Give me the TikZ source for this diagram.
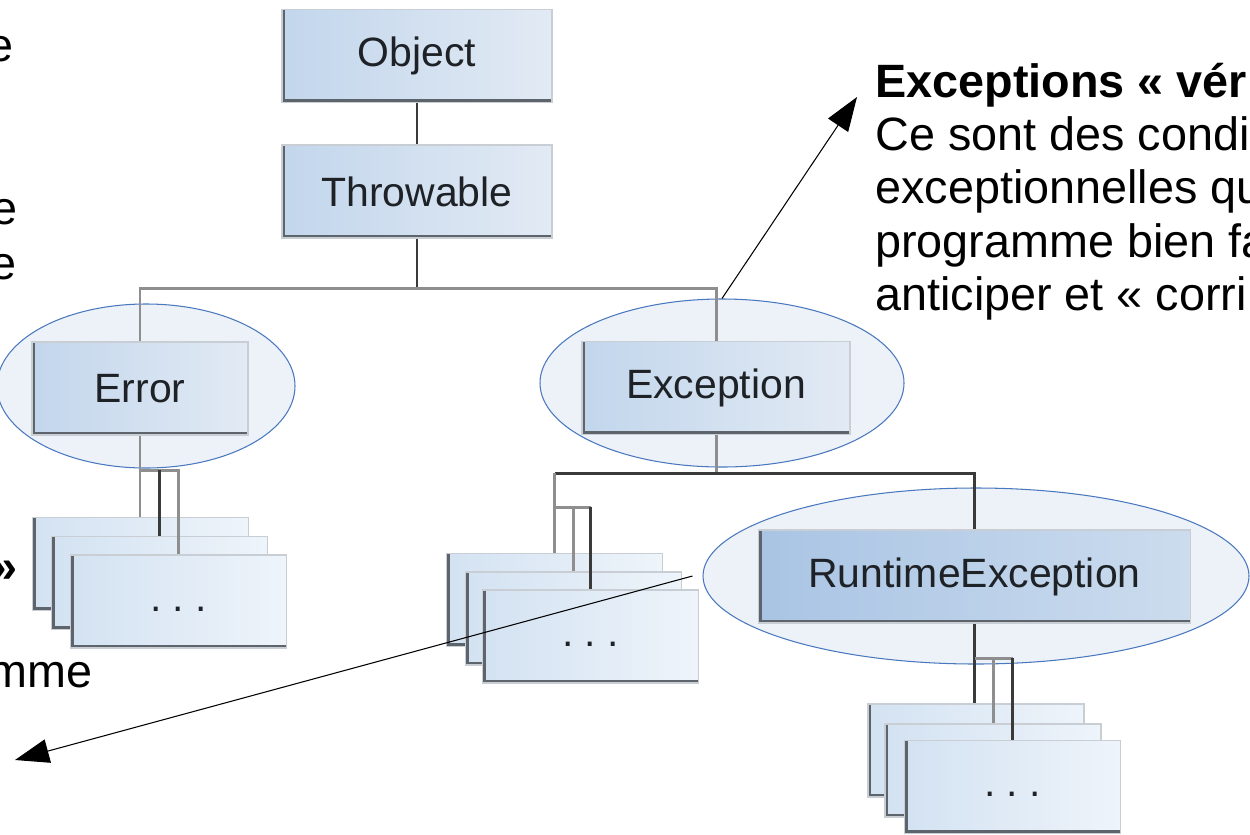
\documentclass[tikz,border=0pt]{standalone}
\usepackage{fontspec}
\setmainfont{Liberation Sans}
\usetikzlibrary{shapes.geometric,arrows.meta}

\definecolor{boxleft}{HTML}{C2D6EC}
\definecolor{boxright}{HTML}{E2EAF4}
\definecolor{rtleft}{HTML}{A9C4E4}
\definecolor{rtright}{HTML}{CCDCEE}
\definecolor{stackleft}{HTML}{D3E2F2}
\definecolor{stackright}{HTML}{EEF4FA}
\definecolor{boxedge}{HTML}{C9CED4}
\definecolor{boxshadow}{HTML}{5E646B}
\definecolor{boxtext}{HTML}{1E2226}
\definecolor{hullfill}{HTML}{EDF2F9}
\definecolor{hullline}{HTML}{4A78BE}
\definecolor{linedark}{HTML}{3A3A3A}
\definecolor{linegrey}{HTML}{8E8E8E}

\newcommand{\labelfont}{\fontsize{23.3}{28}\selectfont}
\newcommand{\notefont}{\fontsize{26.6}{30.4}\selectfont}
\newcommand{\moredots}{\vphantom{Ay}.\ .\ .}

\tikzset{
  classbox/.style={draw=boxedge, line width=1pt, inner sep=0pt,
    left color=boxleft, right color=boxright,
    minimum width=5.4cm, minimum height=1.86cm,
    font=\labelfont, text=boxtext,
    path picture={\draw[boxshadow, line width=3.6pt]
      (path picture bounding box.north west) --
      (path picture bounding box.south west) --
      (path picture bounding box.south east);}},
  stackbox/.style={classbox, minimum width=4.32cm,
    left color=stackleft, right color=stackright},
  hull/.style={ellipse, draw=hullline, line width=0.6pt, fill=hullfill, inner sep=0pt},
  darklink/.style={draw=linedark, line width=1.7pt},
  greylink/.style={draw=linegrey, line width=1.7pt},
  callout/.style={-{Triangle[length=0.68cm,width=0.48cm]}, line width=0.6pt},
  tail/.style={anchor=base east, inner sep=0pt, font=\notefont}
}

\begin{document}
\begin{tikzpicture}
  \useasboundingbox (0,0) rectangle (25,-16.68);
  \clip (0,0) rectangle (25,-16.68);

  % highlighted groups
  \node[hull, minimum width=5.96cm, minimum height=3.28cm] (errhull) at (2.92,-7.72) {};
  \node[hull, minimum width=7.28cm, minimum height=3.36cm] (exhull) at (14.44,-7.66) {};
  \node[hull, minimum width=10.92cm, minimum height=3.52cm] (rthull) at (19.52,-11.52) {};

  % class hierarchy
  \node[classbox] (object) at (8.34,-1.12) {Object};
  \node[classbox] (throwable) at (8.34,-3.83) {Throwable};
  \node[classbox, minimum width=4.32cm] (error) at (2.80,-7.77) {Error};
  \node[classbox, minimum width=5.36cm] (exception) at (14.32,-7.76) {Exception};
  \node[classbox, minimum width=8.64cm, left color=rtleft, right color=rtright]
    (runtime) at (19.49,-11.53) {RuntimeException};

  % subclass stacks
  \node[stackbox] (errA) at (2.81,-11.28) {};
  \node[stackbox] (errB) at ([shift={(0.38,-0.38)}]errA.center) {};
  \node[stackbox] (errC) at ([shift={(0.38,-0.37)}]errB.center) {\moredots};
  \node[stackbox] (exA) at (11.09,-12.00) {};
  \node[stackbox] (exB) at ([shift={(0.38,-0.37)}]exA.center) {};
  \node[stackbox] (exC) at ([shift={(0.34,-0.36)}]exB.center) {\moredots};
  \node[stackbox] (rtA) at (19.52,-15.01) {};
  \node[stackbox] (rtB) at ([shift={(0.34,-0.40)}]rtA.center) {};
  \node[stackbox] (rtC) at ([shift={(0.39,-0.33)}]rtB.center) {\moredots};

  % links
  \coordinate (split) at (throwable.south |- 0,-5.76);
  \draw[darklink] (object) -- (throwable);
  \draw[darklink] (throwable) -- (split);
  \draw[greylink] (error) |- (split) -| (exception);

  \coordinate (exsplit) at (exception.south |- 0,-9.46);
  \draw[greylink] (exception) -- (exsplit);
  \draw[darklink] (exA.north |- exsplit) -- (exsplit) -| (runtime);
  \draw[greylink] (exA.north |- exsplit) -- (exA.north);

  \draw[greylink] (error) -- (error |- errA.north);
  \coordinate (errfork) at (error |- 0,-9.40);
  \draw[greylink] (errfork) -| (errC.north);
  \draw[darklink] (errfork -| errB.north) -- (errB.north);

  \coordinate (exfork) at (exA.north |- 0,-10.14);
  \draw[greylink] (exfork) -| (exB.north);
  \draw[greylink] (exfork) -- (exfork -| exC.north);
  \draw[darklink] (exfork -| exC.north) -- (exC.north);

  \draw[darklink] (runtime) -- (runtime |- rtA.north);
  \coordinate (rtfork) at (runtime |- 0,-13.16);
  \draw[greylink] (rtfork) -| (rtB.north);
  \draw[greylink] (rtfork) -- (rtfork -| rtC.north);
  \draw[darklink] (rtfork -| rtC.north) -- (rtC.north);

  % notes
  \node[anchor=north west, align=left, inner sep=0pt, font=\notefont] (checked)
    at (17.50,-1.25) {\textbf{Exceptions «~vér}\\Ce sont des condi\\exceptionnelles qu\\programme bien fa\\anticiper et «~corri};
  \node[tail] (tailA) at (0.28,-1.22) {e};
  \node[tail] (tailB) at (0.36,-4.48) {e};
  \node[tail] (tailC) at (0.34,-5.58) {e};
  \node[tail, font=\notefont\bfseries] (tailD) at (0.36,-11.64) {»};
  \node[tail] (tailE) at (1.86,-13.74) {mme};

  % callouts
  \coordinate (tipchecked) at (17.14,-1.94);
  \coordinate (tipunchecked) at (0.30,-15.20);
  \draw[callout] (exhull.north) -- (tipchecked);
  \draw[callout] ([xshift=-0.2cm]rthull.west) -- (tipunchecked);
\end{tikzpicture}
\end{document}
